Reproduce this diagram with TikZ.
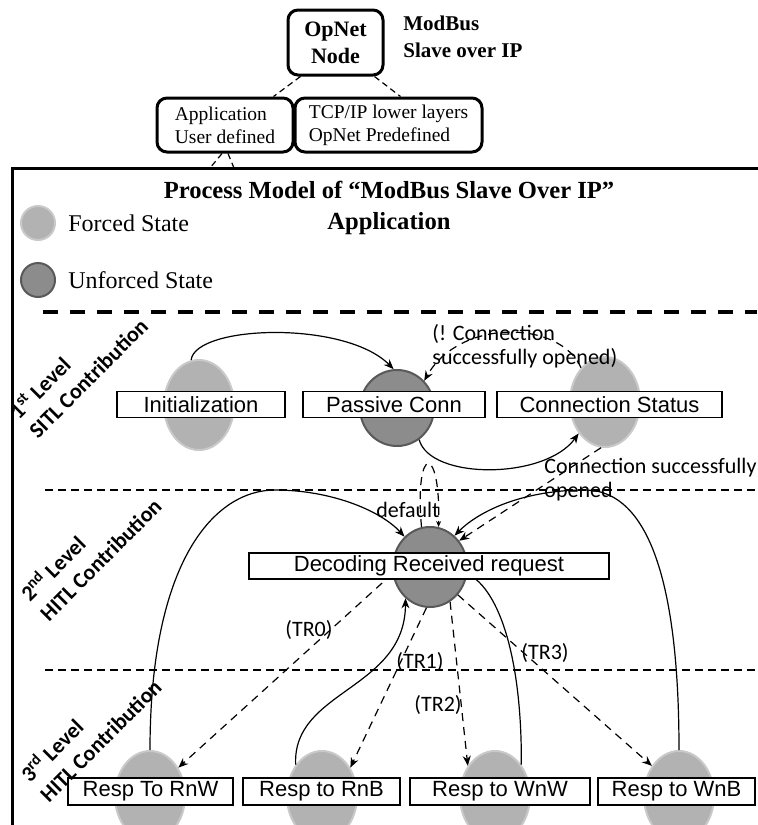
\documentclass[tikz,border=0pt]{standalone}
\usepackage{fontspec}
\setmainfont{Liberation Serif}
\newfontfamily\statefont{Liberation Sans}
\newfontfamily\lblfont{Carlito}
\usepackage{tikz}
\usetikzlibrary{shapes.geometric, arrows.meta, positioning}

\begin{document}
\begin{tikzpicture}[
		    x=0.5pt, y=-0.5pt,
		    forced/.style={ellipse, fill=gray!60, draw=gray!42, line width=1pt, minimum width=35pt, minimum height=45pt, inner sep=0pt},
		    unforced/.style={ellipse, fill=gray!90, draw=black!65, line width=1pt, minimum width=37pt, minimum height=38pt, inner sep=0pt}
		]
		\tikzset{
		    statebox/.style={draw, fill=white, line width=0.8pt, font=\statefont\fontsize{11}{13}\selectfont, minimum height=13pt, inner sep=0pt},
		    trans/.style={-{Stealth[length=5pt, width=4pt]}, line width=0.6pt},
		    dtrans/.style={trans, dash pattern=on 4pt off 3pt},
		    lbl/.style={font=\lblfont\fontsize{11}{12}\selectfont, inner sep=0pt, align=left},
		    level/.style={font=\lblfont\bfseries\fontsize{11}{13.5}\selectfont, inner sep=0pt, align=left, rotate=45},
		    sep/.style={line width=0.75pt, dash pattern=on 4pt off 2.5pt},
		    topbox/.style={draw, rounded corners=5pt, line width=1.5pt, inner sep=0pt},
		    topdash/.style={line width=0.6pt, dash pattern=on 3pt off 2pt}
		}
		\useasboundingbox (0,0) rectangle (758,825);
		\clip (0,0) rectangle (758,825);

		\node[topbox, align=center, minimum width=47.5pt, minimum height=32.5pt, font=\bfseries\fontsize{11}{13.5}\selectfont] (opnet) at (335.5,42.5) {OpNet\\Node};
		\node[anchor=west, align=left, inner sep=0pt, font=\bfseries\fontsize{10.5}{13.5}\selectfont] (modbus) at (403,37) {ModBus\\Slave over IP};
		\node[topbox, align=left, minimum width=68pt, minimum height=27pt, font=\fontsize{9.75}{11.5}\selectfont] (app) at (225,125) {Application\\User defined};
		\node[topbox, align=left, minimum width=93.5pt, minimum height=27pt, font=\fontsize{9.75}{11.5}\selectfont] (tcp) at (388.5,125) {TCP/IP lower layers\\OpNet Predefined};
		\draw[topdash] ([xshift=7pt]opnet.south west) -- ([xshift=-10.5pt]app.north east);
		\draw[topdash] ([xshift=-5pt]opnet.south east) -- ([xshift=6pt]tcp.north);
		\coordinate (vl) at (210,168);
		\coordinate (vr) at (234,168);
		\draw[topdash] ([xshift=-1.5pt]app.south) -- (vl);
		\draw[topdash] ([xshift=1.5pt]app.south) -- (vr);

		\draw[line width=1.5pt] (758,168) -| (12,830);
		\node[align=center, inner sep=0pt, font=\bfseries\fontsize{12.3}{15.5}\selectfont] (title) at (389,208) {Process Model of “ModBus Slave Over IP”\\Application};
		\node[circle, fill=gray!60, draw=gray!42, line width=1pt, minimum size=17pt, inner sep=0pt] (fleg) at (38,223) {};
		\node[right=6pt of fleg, inner sep=0pt, font=\fontsize{12}{14}\selectfont] (ftext) {Forced State};
		\node[circle, fill=gray!90, draw=black!65, line width=1pt, minimum size=17pt, inner sep=0pt] (uleg) at (38,280) {};
		\node[right=6pt of uleg, inner sep=0pt, font=\fontsize{12}{14}\selectfont] (utext) {Unforced State};

		\draw[line width=1.6pt, dash pattern=on 7.5pt off 6pt] (43,312) -- (757,312);
		\draw[sep] (45,490) -- (757,490);
		\draw[sep] (45,670) -- (757,670);

		\node[forced] (init) at (199,405) {};
		\node[unforced] (passive) at (397,408) {};
		\node[forced] (connst) at (605,402) {};
		\node[unforced, minimum height=40pt] (decod) at (430,567) {};
		\node[forced] (rnw) at (150,796) {};
		\node[forced] (rnb) at (322,796) {};
		\node[forced] (wnw) at (495,796) {};
		\node[forced] (wnb) at (679,796) {};

		\draw[trans] (init.100) .. controls (195,325) and (345,320) .. (passive.95);
		\draw[dtrans] (connst.125) .. controls (560,320) and (460,318) .. (passive.45);
		\draw[trans] (passive.-55) .. controls (430,480) and (545,480) .. (connst.-130);
		\draw[dtrans] (connst.-95) -- (decod.42);
		\draw[dtrans, -{Stealth[length=3pt, width=2.5pt]}] (decod.102) .. controls (414,443) and (441,443) .. (decod.78);
		\draw[trans] (rnw.north) .. controls (150,560) and (215,490) .. (275,490) .. controls (330,490) and (380,510) .. (decod.130);
		\draw[trans] (wnb.north) .. controls (679,560) and (640,490) .. (585,490) .. controls (525,490) and (480,510) .. (decod.52);
		\draw[trans] (rnb.130) .. controls (292,690) and (405,690) .. (decod.-128);
		\draw[line width=0.6pt] (decod.-10) .. controls (500,590) and (522,660) .. (wnw.50);
		\draw[dtrans] (decod.-170) -- (rnw.45);
		\draw[dtrans] (decod.-95) -- (rnb.45);
		\draw[dtrans] (decod.-60) -- (wnw.132);
		\draw[dtrans] (decod.-45) -- (wnb.132);

		\node[statebox, minimum width=84pt] (initbox) at (201,404.5) {Initialization};
		\node[statebox, minimum width=91pt] (passbox) at (394,404.5) {Passive Conn};
		\node[statebox, minimum width=112.5pt] (connbox) at (609.5,404.5) {Connection Status};
		\node[statebox, minimum width=180pt] (decbox) at (429,566) {Decoding Received request};
		\node[statebox, minimum width=82.5pt, minimum height=13.5pt] (rnwbox) at (150.5,791.5) {Resp To RnW};
		\node[statebox, minimum width=78.5pt, minimum height=13.5pt] (rnbbox) at (321.5,791.5) {Resp to RnB};
		\node[statebox, minimum width=90pt, minimum height=13.5pt] (wnwbox) at (500,791.5) {Resp to WnW};
		\node[statebox, minimum width=78.5pt, minimum height=13.5pt] (wnbbox) at (676.5,791.5) {Resp to WnB};

		\node[lbl] (tr0) at (309,630) {(TR0)};
		\node[lbl] (tr1) at (420,662) {(TR1)};
		\node[lbl] (tr2) at (438,705) {(TR2)};
		\node[lbl] (tr3) at (545,653) {(TR3)};
		\node[lbl] (dflt) at (408,510) {default};
		\node[lbl, anchor=west] (notok) at (432,346) {(! Connection\\successfully opened)};
		\node[lbl, anchor=west] (isok) at (544,480) {Connection successfully\\opened};

		\node[level] (lev1) at (78,368) {1\textsuperscript{st} Level\\SITL Contribution};
		\node[level] (lev2) at (90,549) {2\textsuperscript{nd} Level\\HITL Contribution};
		\node[level] (lev3) at (90,730) {3\textsuperscript{rd} Level\\HITL Contribution};
		\end{tikzpicture}
\end{document}
